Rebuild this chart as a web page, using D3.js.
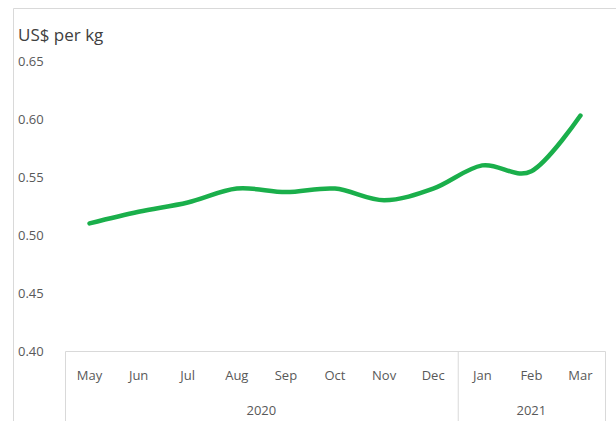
<!DOCTYPE html>
<html>
<head>
<meta charset="utf-8">
<script src="https://cdn.jsdelivr.net/npm/d3@7"></script>
<style>
	body { margin: 0; background: #fff; }
	svg { display: block; font-family: "Open Sans", "Noto Sans", sans-serif; }
	.tick-label { fill: #595959; font-size: 13px; }
	.frame { stroke: #d9d9d9; fill: none; }
</style>
</head>
<body>
<svg width="616" height="421"></svg>
<script>
const months = ["May", "Jun", "Jul", "Aug", "Sep", "Oct", "Nov", "Dec", "Jan", "Feb", "Mar"];
const years = [["2020", 0, 8], ["2021", 8, 11]];
const prices = [0.510, 0.520, 0.528, 0.540, 0.537, 0.540, 0.530, 0.540, 0.560, 0.555, 0.603];
const yTicks = [0.40, 0.45, 0.50, 0.55, 0.60, 0.65];

const svg = d3.select("svg");

// outer chart area frame
svg.append("path")
	.attr("class", "frame")
	.attr("d", "M13.5,421 V8.5 H616");

const x = d3.scaleBand(months, [65, 605]);
const y = d3.scaleLinear([0.40, 0.65], [351, 61]);

// y labels
svg.append("text")
	.attr("x", 18)
	.attr("y", 41)
	.attr("fill", "#404040")
	.attr("font-size", 17)
	.text("US$ per kg");

svg.selectAll(".ylab")
	.data(yTicks)
	.join("text")
	.attr("class", "tick-label")
	.attr("x", 18)
	.attr("y", d => y(d) + 5)
	.text(d => d.toFixed(2));

// category axis box
const g = svg.append("g");
g.append("path")
	.attr("class", "frame")
	.attr("d", `M${x.range()[0] + 0.5},421 V${y(0.40) + 0.5} H${x.range()[1] + 0.5} V421`);

g.append("line")
	.attr("class", "frame")
	.attr("x1", x("Jan") + 0.5).attr("x2", x("Jan") + 0.5)
	.attr("y1", y(0.40)).attr("y2", 421);

g.selectAll(".mlab")
	.data(months)
	.join("text")
	.attr("class", "tick-label")
	.attr("text-anchor", "middle")
	.attr("x", d => x(d) + x.bandwidth() / 2)
	.attr("y", 380)
	.text(d => d);

g.selectAll(".yrlab")
	.data(years)
	.join("text")
	.attr("class", "tick-label")
	.attr("text-anchor", "middle")
	.attr("x", d => (x(months[d[1]]) + x(months[d[2] - 1]) + x.bandwidth()) / 2)
	.attr("y", 415)
	.text(d => d[0]);

const line = d3.line()
	.curve(d3.curveCatmullRom.alpha(0))
	.x((d, i) => x(months[i]) + x.bandwidth() / 2)
	.y(d => y(d));

svg.append("path")
	.attr("fill", "none")
	.attr("stroke", "#1aaf4b")
	.attr("stroke-width", 4.5)
	.attr("stroke-linecap", "round")
	.attr("d", line(prices));
</script>
</body>
</html>
